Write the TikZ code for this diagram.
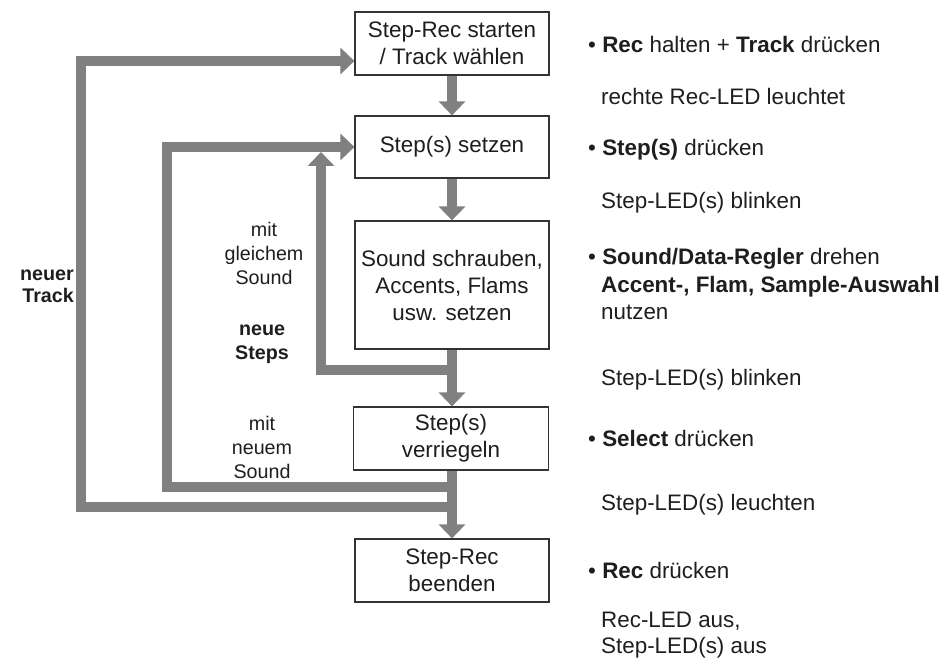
\documentclass[tikz,border=0pt]{standalone}
\usepackage{fontspec}
\setmainfont{Liberation Sans}
\usetikzlibrary{arrows.meta,calc}
\definecolor{arrgray}{HTML}{808080}
\definecolor{txt}{HTML}{1E1E1E}
\definecolor{boxline}{HTML}{333333}
\tikzset{
  stepbox/.style={draw=boxline, line width=1.2pt, fill=white, minimum width=194pt, inner sep=0pt, align=center, text=txt, font=\fontsize{22.4}{27}\selectfont},
  arr/.style={draw=arrgray, line width=10pt, line join=miter, -{Triangle[width=26pt,length=14pt]}},
  plain/.style={draw=arrgray, line width=10pt, line join=miter},
  lbl/.style={align=center, inner sep=0pt, text=txt, font=\fontsize{19.7}{24}\selectfont},
  rt/.style={anchor=base west, inner sep=0pt, text=txt, font=\fontsize{22.4}{27}\selectfont}
}
\begin{document}
\begin{tikzpicture}[x=1pt,y=-1pt]
\useasboundingbox (0,0) rectangle (946,658);
% boxes
\node[stepbox, minimum height=63pt] (b1) at (452,43.5) {Step-Rec starten\\/ Track wählen};
\node[stepbox, minimum height=62pt] (b2) at (452,147) {Step(s) setzen};
\node[stepbox, minimum height=128pt] (b3) at (452,285) {Sound schrauben,\\Accents, Flams\\usw. setzen};
\node[stepbox, minimum height=63pt, minimum width=195pt] (b4) at (451,438.5) {Step(s)\\verriegeln};
\node[stepbox, minimum height=63pt] (b5) at (452,570.5) {Step-Rec\\beenden};
% junction coordinates
\coordinate (j1) at (452,370);
\coordinate (j2) at (452,487);
\coordinate (j3) at (452,507);
\coordinate (tipA) at (321,152);
\coordinate (k2) at (167,147);
\coordinate (k1) at (81,61);
% loops (drawn first so main arrows overlay)
\draw[plain] ($(j1)+(5,0)$) -| ($(tipA)+(0,10)$);
\draw[arr] ($(tipA)+(0,10)$) -- (tipA);
\draw[arr] ($(j2)+(5,0)$) -| (k2) -- (b2.west);
\draw[arr] ($(j3)+(5,0)$) -| (k1) -- (k1 -| b1.west);
% main vertical arrows
\draw[arr] (b1.south) -- (b2.north);
\draw[arr] (b2.south) -- (b3.north);
\draw[arr] (b3.south) -- (b3.south |- b4.north);
\draw[arr] (b4.south -| b5.north) -- (b5.north);
% labels
\node[lbl] (l1) at (264,253) {mit\\gleichem\\Sound};
\node[lbl, font=\fontsize{19.7}{24}\selectfont\bfseries] (l2) at (262,344) {neue\\Steps};
\node[lbl] (l3) at (262,447) {mit\\neuem\\Sound};
\node[lbl, align=right, anchor=east, font=\fontsize{19.7}{22}\selectfont\bfseries] (l4) at (74,286) {neuer\\Track};
% right column
\node[rt] (r1) at (588,52.5) {• \textbf{Rec} halten + \textbf{Track} drücken};
\node[rt] (r2) at (601,105) {rechte Rec-LED leuchtet};
\node[rt] (r3) at (588,156) {• \textbf{Step(s)} drücken};
\node[rt] (r4) at (601,208.5) {Step-LED(s) blinken};
\node[rt] (r5) at (588,264) {• \textbf{Sound/Data-Regler} drehen};
\node[rt] (r6) at (601,292) {\textbf{Accent-, Flam, Sample-Auswahl}};
\node[rt] (r7) at (601,319) {nutzen};
\node[rt] (r8) at (601,385) {Step-LED(s) blinken};
\node[rt] (r9) at (588,446.5) {• \textbf{Select} drücken};
\node[rt] (r10) at (601,510) {Step-LED(s) leuchten};
\node[rt] (r11) at (588,578) {• \textbf{Rec} drücken};
\node[rt] (r12) at (601,627) {Rec-LED aus,};
\node[rt] (r13) at (601,653) {Step-LED(s) aus};
\end{tikzpicture}
\end{document}
